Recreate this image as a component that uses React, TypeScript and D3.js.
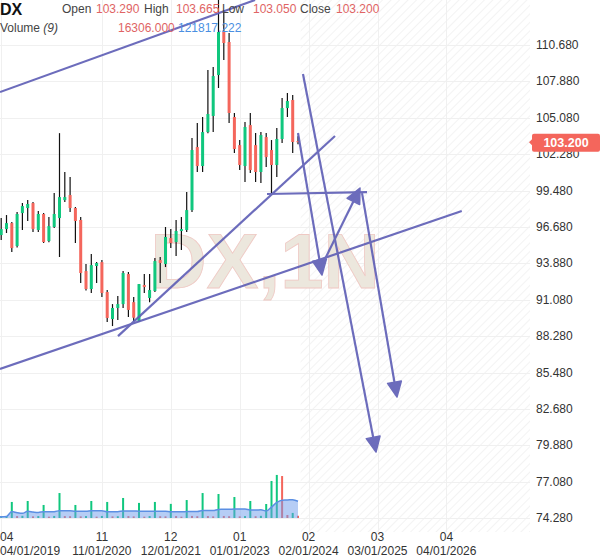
import * as d3 from "d3";
import { useEffect, useRef } from "react";

// monthly DX candles, first one is 04/2019
const startYear = 2019;
const startMonth = 4;

const opens = [
	96.06, 96.52, 96.98, 95.22, 97.75, 98.14, 98.52, 96.45, 97.68, 95.6,
	96.68, 97.37, 98.75, 99.14, 98.14, 97.22, 93.29, 91.91, 93.68, 93.98,
	91.68, 89.6, 90.45, 90.75, 93.06, 90.9, 89.45, 92.22, 91.22, 91.76,
	94.14, 93.83, 95.83, 95.52, 96.37, 96.45, 97.98, 102.83, 101.37, 103.98,
	105.22, 108.37, 111.68, 110.91, 105.14, 102.98, 101.37, 104.52, 102.98, 100.91,
	103.6, 102.6, 101.45, 103.45, 105.83, 106.45, 103.29
];
const highs = [
	97.37, 97.6, 97.06, 97.83, 98.52, 98.75, 98.6, 97.91, 97.75, 97.45,
	99.29, 103.9, 100.91, 100.52, 98.22, 97.45, 93.83, 94.6, 93.98, 94.14,
	91.83, 90.75, 91.37, 93.29, 93.22, 91.29, 92.3, 93.06, 93.06, 94.29,
	94.37, 96.68, 96.52, 97.22, 97.45, 99.37, 103.52, 104.68, 105.14, 108.75,
	108.99, 114.14, 113.37, 111.6, 105.45, 103.37, 104.75, 105.45, 103.91, 103.98,
	103.91, 103.37, 104.29, 106.6, 106.98, 106.83, 103.665
];
const lows = [
	95.68, 96.22, 94.76, 95.1, 96.45, 97.14, 96.29, 96.29, 95.45, 95.5,
	96.6, 94.37, 98.6, 97.83, 95.45, 92.37, 91.8, 91.6, 92.37, 91.29,
	89.37, 89.06, 89.52, 90.45, 89.75, 89.45, 89.4, 91.6, 90.9, 91.68,
	92.37, 93.6, 95.06, 94.45, 94.91, 96.29, 97.83, 100.91, 100.91, 103.9,
	103.98, 107.37, 109.52, 104.68, 102.37, 101.06, 100.14, 100.83, 100.14, 100.06,
	101.29, 99.29, 100.52, 103.14, 105.14, 102.37, 103.05
];
const closes = [
	96.52, 96.98, 95.06, 97.68, 98.29, 98.45, 96.52, 97.68, 95.52, 96.75,
	97.68, 98.98, 98.98, 98.14, 97.14, 93.14, 91.91, 93.75, 93.91, 91.6,
	89.68, 90.45, 90.75, 93.14, 90.3, 89.7, 92.29, 92.06, 91.83, 94.06,
	93.91, 95.91, 95.45, 96.37, 96.52, 97.98, 102.6, 101.37, 103.98, 105.37,
	108.29, 111.68, 110.83, 105.45, 102.68, 101.45, 104.37, 101.06, 100.91, 103.75,
	102.06, 101.45, 103.45, 105.83, 106.37, 103.22, 103.2
];
const volumes = [
	10000, 13000, 117000, 14000, 16000, 124000, 12000, 14000, 95000, 10000,
	15000, 182000, 14000, 13000, 95000, 12000, 14000, 124000, 10000, 15000,
	117000, 12000, 13000, 146000, 14000, 12000, 110000, 10000, 14000, 117000,
	13000, 12000, 103000, 14000, 10000, 131000, 15000, 13000, 182000, 14000,
	12000, 175000, 15000, 13000, 153000, 12000, 14000, 124000, 13000, 16000,
	102000, 270000, 314000, 306000, 22000, 37049, 16306
];

const priceTicks = [
	110.68, 107.88, 105.08, 102.28, 99.48, 96.68, 93.88,
	91.08, 88.28, 85.48, 82.68, 79.88, 77.08, 74.28
];
const timeTicks = ["2019-04", "2020-11", "2021-12", "2023-01", "2024-02", "2025-03", "2026-04"];

// drawings: [month offset from 04/2019, price]
const trendLines = [
	[[-0.23, 107.06], [47.9, 114.14]],
	[[-0.23, 85.76], [86.9, 97.91]],
	[[22.04, 88.29], [62.98, 103.68]],
	[[50.15, 99.22], [69.02, 99.37]]
];
const arrows = [
	[[56.94, 108.45], [70.72, 79.37]],
	[[56.0, 103.91], [60.53, 92.99]],
	[[60.72, 93.91], [67.7, 99.68]],
	[[68.08, 99.29], [74.68, 83.6]]
];

const lastPrice = 103.2;
const maPeriod = 9;

const font = "'Liberation Sans', Arial, sans-serif";
const up = "#10c77e";
const down = "#f4665c";
const drawColor = "#5d5db5";

const App = () => {
	const chartRef = useRef(null);

	useEffect(() => {
		const svg = d3.select(chartRef.current);
		svg.selectAll("*").remove();

		const plotRight = 530;
		const plotBottom = 532;

		const x = d3.scaleLinear().domain([0, 100]).range([1.2, 531.2]);
		const y = d3.scaleLinear().domain([74.28, 110.68]).range([518.2, 45]);
		const yVol = d3.scaleLinear().domain([0, 350000]).range([518, 470]);

		const monthIdx = (s) => {
			const [yy, mm] = s.split("-").map(Number);
			return (yy - startYear) * 12 + (mm - startMonth);
		};

		const defs = svg.append("defs");
		defs.append("clipPath").attr("id", "plotClip")
			.append("rect").attr("x", 0).attr("y", 0).attr("width", plotRight).attr("height", plotBottom);
		const pat = defs.append("pattern")
			.attr("id", "hatch")
			.attr("patternUnits", "userSpaceOnUse")
			.attr("width", 6)
			.attr("height", 6)
			.attr("patternTransform", "rotate(45)");
		pat.append("line")
			.attr("x1", 0).attr("y1", 0).attr("x2", 0).attr("y2", 6)
			.attr("stroke", "#ebebeb").attr("stroke-width", 1.2);

		svg.append("rect").attr("width", 600).attr("height", 558).attr("fill", "#fff");

		// future area
		const lastIdx = closes.length - 1;
		svg.append("rect")
			.attr("x", x(lastIdx + 0.5))
			.attr("y", 0)
			.attr("width", plotRight - x(lastIdx + 0.5))
			.attr("height", plotBottom)
			.attr("fill", "url(#hatch)");

		// grid
		svg.append("g")
			.selectAll("line")
			.data(priceTicks)
			.enter()
			.append("line")
			.attr("x1", 0).attr("x2", plotRight)
			.attr("y1", d => Math.round(y(d)) + 0.5).attr("y2", d => Math.round(y(d)) + 0.5)
			.attr("stroke", "#f0f0f0");
		svg.append("g")
			.selectAll("line")
			.data(timeTicks)
			.enter()
			.append("line")
			.attr("x1", d => Math.round(x(monthIdx(d))) + 0.5).attr("x2", d => Math.round(x(monthIdx(d))) + 0.5)
			.attr("y1", 0).attr("y2", plotBottom)
			.attr("stroke", "#f0f0f0");

		// watermark
		svg.append("text")
			.attr("x", 265)
			.attr("y", 288)
			.attr("text-anchor", "middle")
			.style("font-family", font)
			.style("font-weight", "bold")
			.style("font-size", "78px")
			.attr("fill", "#ece7dd")
			.attr("stroke", "#efc9c4")
			.attr("stroke-width", 0.8)
			.text("DX,1N");

		const plotG = svg.append("g").attr("clip-path", "url(#plotClip)");

		// volume
		const volColor = (d, i) => (i > 0 && d < volumes[i - 1] ? down : up);
		plotG.append("g")
			.selectAll("rect")
			.data(volumes)
			.enter()
			.append("rect")
			.attr("x", (d, i) => x(i) - 1)
			.attr("y", d => yVol(d))
			.attr("width", 2)
			.attr("height", d => yVol(0) - yVol(d))
			.attr("fill", volColor);

		const ma = volumes.map((d, i) => {
			const win = volumes.slice(Math.max(0, i - maPeriod + 1), i + 1);
			return d3.mean(win);
		});
		const maPts = [ma[0], ...ma];
		const maArea = d3.area()
			.x((d, i) => (i === 0 ? 0 : x(i - 1)))
			.y0(yVol(0))
			.y1(d => yVol(d))
			.curve(d3.curveMonotoneX);
		const maLine = d3.line()
			.x((d, i) => (i === 0 ? 0 : x(i - 1)))
			.y(d => yVol(d))
			.curve(d3.curveMonotoneX);
		plotG.append("path")
			.attr("d", maArea(maPts))
			.attr("fill", "rgba(110, 155, 235, 0.5)");
		plotG.append("path")
			.attr("d", maLine(maPts))
			.attr("fill", "none")
			.attr("stroke", "#5b8fe3")
			.attr("stroke-width", 1.5);

		// candles
		const candles = closes.map((c, i) => ({ i, o: opens[i], h: highs[i], l: lows[i], c }));
		plotG.append("g")
			.selectAll("line")
			.data(candles)
			.enter()
			.append("line")
			.attr("x1", d => x(d.i)).attr("x2", d => x(d.i))
			.attr("y1", d => y(d.h)).attr("y2", d => y(d.l))
			.attr("stroke", "#111")
			.attr("stroke-width", 1.2);
		plotG.append("g")
			.selectAll("rect")
			.data(candles)
			.enter()
			.append("rect")
			.attr("x", d => x(d.i) - 1.5)
			.attr("y", d => y(Math.max(d.o, d.c)))
			.attr("width", 3)
			.attr("height", d => Math.max(1, Math.abs(y(d.o) - y(d.c))))
			.attr("fill", d => (d.c >= d.o ? up : down));

		// drawings
		const drawG = plotG.append("g").attr("opacity", 0.9);
		trendLines.forEach(seg => {
			drawG.append("line")
				.attr("x1", x(seg[0][0])).attr("y1", y(seg[0][1]))
				.attr("x2", x(seg[1][0])).attr("y2", y(seg[1][1]))
				.attr("stroke", drawColor)
				.attr("stroke-width", 2.2);
		});
		arrows.forEach(seg => {
			const x0 = x(seg[0][0]), y0 = y(seg[0][1]);
			const x1 = x(seg[1][0]), y1 = y(seg[1][1]);
			const len = Math.hypot(x1 - x0, y1 - y0);
			const ux = (x1 - x0) / len, uy = (y1 - y0) / len;
			const headLen = 15, headW = 7;
			const bx = x1 - ux * headLen, by = y1 - uy * headLen;
			drawG.append("line")
				.attr("x1", x0).attr("y1", y0)
				.attr("x2", bx).attr("y2", by)
				.attr("stroke", drawColor)
				.attr("stroke-width", 2.2);
			drawG.append("path")
				.attr("d", `M${x1},${y1}L${bx - uy * headW},${by + ux * headW}L${bx + uy * headW},${by - ux * headW}Z`)
				.attr("fill", drawColor)
				.attr("stroke", drawColor)
				.attr("stroke-width", 1.5)
				.attr("stroke-linejoin", "round");
		});

		// price axis
		svg.append("g")
			.selectAll("text")
			.data(priceTicks)
			.enter()
			.append("text")
			.attr("x", 536)
			.attr("y", d => y(d) + 4)
			.style("font-family", font)
			.style("font-size", "12px")
			.attr("fill", "#333")
			.text(d => d3.format(".3f")(d));

		const py = y(lastPrice);
		svg.append("path")
			.attr("d", `M529,${py}L533,${py - 4}L533,${py + 4}Z`)
			.attr("fill", down);
		svg.append("rect")
			.attr("x", 532).attr("y", py - 8.5)
			.attr("width", 68).attr("height", 18)
			.attr("rx", 2)
			.attr("fill", down);
		svg.append("text")
			.attr("x", 566).attr("y", py + 4.5)
			.attr("text-anchor", "middle")
			.style("font-family", font)
			.style("font-size", "12.5px")
			.style("font-weight", "bold")
			.attr("fill", "#fff")
			.text(d3.format(".3f")(lastPrice));

		// time axis
		const tG = svg.append("g")
			.selectAll("g")
			.data(timeTicks)
			.enter()
			.append("g");
		const tx = d => {
			const v = x(monthIdx(d));
			return v < 30 ? 0 : v;
		};
		const anchor = d => (x(monthIdx(d)) < 30 ? "start" : "middle");
		tG.append("text")
			.attr("x", tx).attr("y", 541)
			.attr("text-anchor", anchor)
			.style("font-family", font).style("font-size", "12px")
			.attr("fill", "#333")
			.text(d => d.split("-")[1]);
		tG.append("text")
			.attr("x", tx).attr("y", 555)
			.attr("text-anchor", anchor)
			.style("font-family", font).style("font-size", "12px")
			.attr("fill", "#333")
			.text(d => {
				const [yy, mm] = d.split("-");
				return `${mm}/01/${yy}`;
			});

		// legend
		const fmt = d3.format(".3f");
		const last = candles[lastIdx];
		const hdr = svg.append("text")
			.attr("y", 13)
			.style("font-family", font)
			.style("font-size", "12px");
		hdr.append("tspan").attr("x", 0).attr("y", 15).style("font-size", "16px").style("font-weight", "bold").attr("fill", "#111").text("DX");
		hdr.append("tspan").attr("x", 62).attr("y", 13).attr("fill", "#444").text("Open");
		hdr.append("tspan").attr("x", 96).attr("fill", "#e06464").text(fmt(last.o));
		hdr.append("tspan").attr("x", 144).attr("fill", "#444").text("High");
		hdr.append("tspan").attr("x", 176).attr("fill", "#e06464").text(fmt(last.h));
		hdr.append("tspan").attr("x", 222).attr("fill", "#444").text("Low");
		hdr.append("tspan").attr("x", 253).attr("fill", "#e06464").text(fmt(last.l));
		hdr.append("tspan").attr("x", 300).attr("fill", "#444").text("Close");
		hdr.append("tspan").attr("x", 336).attr("fill", "#e06464").text(fmt(last.c));

		const vh = svg.append("text")
			.attr("y", 32)
			.style("font-family", font)
			.style("font-size", "12px");
		vh.append("tspan").attr("x", 0).attr("fill", "#444").text("Volume ");
		vh.append("tspan").attr("fill", "#444").style("font-style", "italic").text("(9)");
		vh.append("tspan").attr("x", 118).attr("fill", "#e06464").text(fmt(volumes[lastIdx]));
		vh.append("tspan").attr("x", 178).attr("fill", "#4a8fe2").text(fmt(ma[lastIdx]));
	}, []);

	return (
		<svg
			ref={chartRef}
			width={600}
			height={558}
			style={{ position: "absolute", left: 0, top: 0, display: "block" }}
		/>
	);
};

export default App;
